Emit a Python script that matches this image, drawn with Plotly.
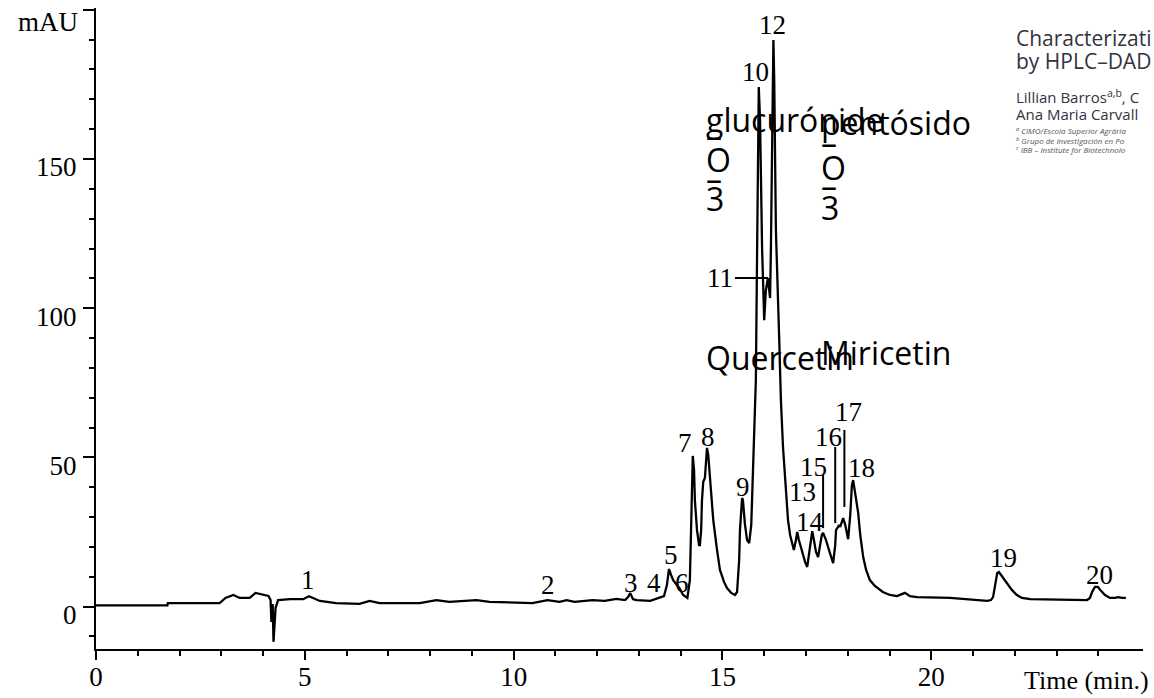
import plotly.graph_objects as go

# ---------------- data ----------------
time_min = [0.00, 1.71, 1.72, 2.96, 3.10, 3.29, 3.44, 3.68, 3.82, 4.13, 4.18, 4.20, 4.23, 4.25,
            4.30, 4.36, 4.65, 4.96, 5.10, 5.20, 5.36, 5.75, 6.31, 6.55, 6.79, 7.75, 8.15, 8.46,
            9.11, 9.42, 10.45, 10.81, 11.10, 11.27, 11.46, 11.89, 12.18, 12.46, 12.67, 12.74,
            12.79, 12.86, 12.95, 13.27, 13.39, 13.51, 13.60, 13.67, 13.72, 13.77, 13.82, 13.89,
            13.97, 14.06, 14.16, 14.22, 14.25, 14.27, 14.29, 14.32, 14.34, 14.39, 14.44, 14.46,
            14.49, 14.51, 14.54, 14.58, 14.61, 14.63, 14.66, 14.70, 14.78, 14.87, 14.94, 15.04,
            15.11, 15.21, 15.30, 15.35, 15.40, 15.42, 15.47, 15.49, 15.54, 15.59, 15.64, 15.69,
            15.71, 15.76, 15.80, 15.83, 15.85, 15.87, 15.90, 15.92, 15.95, 16.00, 16.04, 16.09,
            16.14, 16.16, 16.19, 16.22, 16.24, 16.28, 16.36, 16.40, 16.45, 16.50, 16.57, 16.62,
            16.67, 16.71, 16.76, 16.79, 16.83, 16.91, 16.98, 17.03, 17.07, 17.12, 17.15, 17.19,
            17.24, 17.29, 17.34, 17.38, 17.41, 17.48, 17.55, 17.60, 17.65, 17.70, 17.72, 17.77,
            17.79, 17.82, 17.86, 17.89, 17.94, 17.98, 18.01, 18.06, 18.10, 18.13, 18.17, 18.25,
            18.30, 18.37, 18.44, 18.53, 18.65, 18.84, 19.01, 19.18, 19.37, 19.49, 19.66, 20.45,
            21.34, 21.43, 21.48, 21.53, 21.58, 21.62, 21.72, 21.84, 21.93, 22.05, 22.17, 22.37,
            23.73, 23.80, 23.85, 23.92, 23.99, 24.07, 24.16, 24.28, 24.40, 24.47, 24.57, 24.66]
absorbance_mau = [0.4, 0.4, 1.2, 1.2, 2.9, 3.9, 2.9, 2.9, 4.6, 3.6, 2.2, -5.1, 0.9, -11.8,
                  -0.4, 2.2, 2.5, 2.5, 3.5, 2.9, 1.9, 1.2, 0.9, 1.9, 1.2, 1.2, 2.2, 1.6,
                  2.2, 1.6, 1.2, 2.2, 1.6, 2.2, 1.6, 2.2, 1.9, 2.6, 2.2, 3.2,
                  4.6, 2.5, 2.2, 1.9, 2.5, 2.9, 3.5, 7.2, 12.6, 10.6, 8.9, 7.6,
                  6.2, 3.9, 2.9, 8.9, 25.7, 42.4, 50.5, 45.8, 35.7, 25.7, 20.6, 20.6,
                  25.7, 35.7, 41.8, 43.1, 48.5, 53.2, 50.8, 42.4, 29.0, 19.0, 12.3, 8.2,
                  6.2, 4.6, 3.9, 4.9, 15.6, 25.7, 36.4, 35.7, 27.4, 22.3, 21.3, 27.4,
                  35.7, 52.5, 75.9, 119.5, 153.0, 174.1, 163.1, 136.3, 119.5, 96.0, 106.1, 110.1,
                  103.4, 119.5, 153.0, 189.9, 176.5, 126.2, 89.3, 69.2, 53.5, 42.4, 29.0, 24.0,
                  20.6, 19.0, 22.3, 25.0, 22.3, 18.3, 14.9, 13.3, 17.3, 24.0, 25.3, 22.3,
                  18.3, 16.6, 20.6, 24.0, 24.7, 22.3, 19.0, 16.3, 14.6, 20.6, 25.7, 26.7,
                  27.4, 26.7, 29.0, 29.7, 27.4, 24.0, 22.6, 30.7, 40.7, 42.4, 39.1, 31.4,
                  24.0, 16.6, 12.3, 8.9, 6.9, 4.9, 3.9, 3.5, 4.6, 3.5, 3.2, 2.9,
                  1.9, 2.2, 3.2, 7.2, 11.3, 11.6, 9.6, 7.2, 5.6, 3.9, 2.9, 2.5,
                  2.2, 2.9, 4.9, 6.6, 6.6, 5.2, 3.9, 2.9, 2.9, 3.2, 2.9, 2.9]

# peak numbers and where their labels sit (time, mAU)
peak_labels = ["1", "2", "3", "4", "5", "6", "7", "8", "9", "10",
               "11", "12", "13", "14", "15", "16", "17", "18", "19", "20"]
label_time = [5.08, 10.82, 12.81, 13.36, 13.77, 14.03, 14.10, 14.65, 15.49, 15.78,
              14.94, 16.21, 16.91, 17.10, 17.17, 17.53, 18.03, 18.34, 21.72, 24.04]
label_mau = [8.9, 7.3, 7.9, 7.9, 17.3, 7.9, 54.8, 56.8, 40.1, 179.2,
             110.1, 194.9, 38.4, 28.3, 46.8, 56.8, 65.2, 46.4, 16.3, 10.6]

# leader lines (x0, y0, x1, y1) for labels 11, 15, 16, 17
leaders = [(15.30, 110.1, 16.09, 110.1),
           (17.41, 44.1, 17.41, 26.3),
           (17.70, 53.5, 17.70, 28.0),
           (17.92, 59.2, 17.92, 33.4)]

x_ticks = [0, 5, 10, 15, 20]
y_ticks = [0, 50, 100, 150, 200]
y_ticktext = ["0", "50", "100", "150", ""]

SERIF = "Liberation Serif, Times New Roman, serif"
SANS = "Open Sans, Noto Sans, sans-serif"

fig = go.Figure()
fig.add_trace(go.Scatter(x=time_min, y=absorbance_mau, mode="lines",
                         line=dict(color="black", width=2.3), hoverinfo="skip",
                         showlegend=False))

shapes = []
for x0, y0, x1, y1 in leaders:
    shapes.append(dict(type="line", xref="x", yref="y", x0=x0, y0=y0, x1=x1, y1=y1,
                       line=dict(color="black", width=2)))

ann = []
for t, xx, yy in zip(peak_labels, label_time, label_mau):
    ann.append(dict(x=xx, y=yy, xref="x", yref="y", text=t, showarrow=False,
                    font=dict(family=SERIF, size=27, color="black"),
                    xanchor="center", yanchor="middle"))

# overlaid compound-name fragments (sans)
def sans_text(txt, x, y, size=32):
    return dict(x=x, y=y, xref="x", yref="y", text=txt, showarrow=False,
                font=dict(family=SANS, size=size, color="black"),
                xanchor="left", yanchor="middle")

ann += [
    sans_text("glucurónide", 14.55, 163.4),
    sans_text("–", 14.55, 158.0),
    sans_text("O", 14.55, 149.7),
    sans_text("–", 14.55, 143.5),
    sans_text("3", 14.55, 136.9),
    sans_text("pentósido", 17.31, 162.1),
    sans_text("–", 17.31, 155.5),
    sans_text("O", 17.31, 147.0),
    sans_text("–", 17.31, 141.0),
    sans_text("3", 17.31, 133.9),
    sans_text("Quercetin", 14.55, 83.6),
    sans_text("Miricetin", 17.31, 85.3),
]

# article header fragment at top right
hdr = "#33333f"
def hdr_text(txt, y, size, color=hdr):
    return dict(x=21.97, y=y, xref="x", yref="y", text=txt, showarrow=False,
                font=dict(family=SANS, size=size, color=color),
                xanchor="left", yanchor="middle")

ann += [
    hdr_text("Characterizati", 190.4, 21),
    hdr_text("by HPLC–DAD", 183.0, 21),
    hdr_text("Lillian Barros<sup>a,b</sup>, C", 171.1, 15),
    hdr_text("Ana Maria Carvall", 165.1, 15),
    hdr_text("<i><sup>a</sup> CIMO/Escola Superior Agrária</i>", 159.4, 8, "#555"),
    hdr_text("<i><sup>b</sup> Grupo de Investigación en Po</i>", 156.3, 8, "#555"),
    hdr_text("<i><sup>c</sup> IBB – Institute for Biotechnolo</i>", 153.3, 8, "#555"),
]

# axis titles
ann.append(dict(x=0, y=1, xref="paper", yref="paper", text="mAU", showarrow=False,
                font=dict(family=SERIF, size=27, color="black"),
                xanchor="right", yanchor="middle", xshift=-16, yshift=-14))
ann.append(dict(x=1, y=0, xref="paper", yref="paper", text="Time (min.)", showarrow=False,
                font=dict(family=SERIF, size=26, color="black"),
                xanchor="right", yanchor="middle", xshift=8, yshift=-31))

fig.update_layout(
    width=1154, height=698,
    margin=dict(l=96, r=11, t=8, b=49, autoexpand=False),
    paper_bgcolor="white", plot_bgcolor="white",
    showlegend=False,
    shapes=shapes, annotations=ann,
    xaxis=dict(range=[0, 25.07], tickvals=x_ticks, ticktext=[str(v) for v in x_ticks],
               automargin=False,
               showgrid=False, zeroline=False, showline=True, linecolor="black",
               linewidth=2, ticks="outside", ticklen=9, tickwidth=2, tickcolor="black",
               tickfont=dict(family=SERIF, size=27, color="black"),
               ticklabelstandoff=-6,
               minor=dict(tickvals=[1, 2, 3, 4, 6, 7, 8, 9, 11, 12, 13, 14, 16, 17, 18, 19,
                                    21, 22, 23, 24],
                          ticks="outside", ticklen=5, tickwidth=2, tickcolor="black",
                          showgrid=False)),
    yaxis=dict(range=[-14.2, 200.6], tickvals=y_ticks, ticktext=y_ticktext,
               automargin=False,
               showgrid=False, zeroline=False, showline=True, linecolor="black",
               linewidth=2, ticks="outside", ticklen=11, tickwidth=2, tickcolor="black",
               tickfont=dict(family=SERIF, size=27, color="black"),
               ticklabelstandoff=1, ticklabelshift=8,
               minor=dict(tickvals=[-10, 10, 20, 30, 40, 60, 70, 80, 90, 110, 120, 130, 140,
                                    160, 170, 180, 190],
                          ticks="outside", ticklen=5, tickwidth=2, tickcolor="black",
                          showgrid=False)),
)

fig.write_html("out.html")
